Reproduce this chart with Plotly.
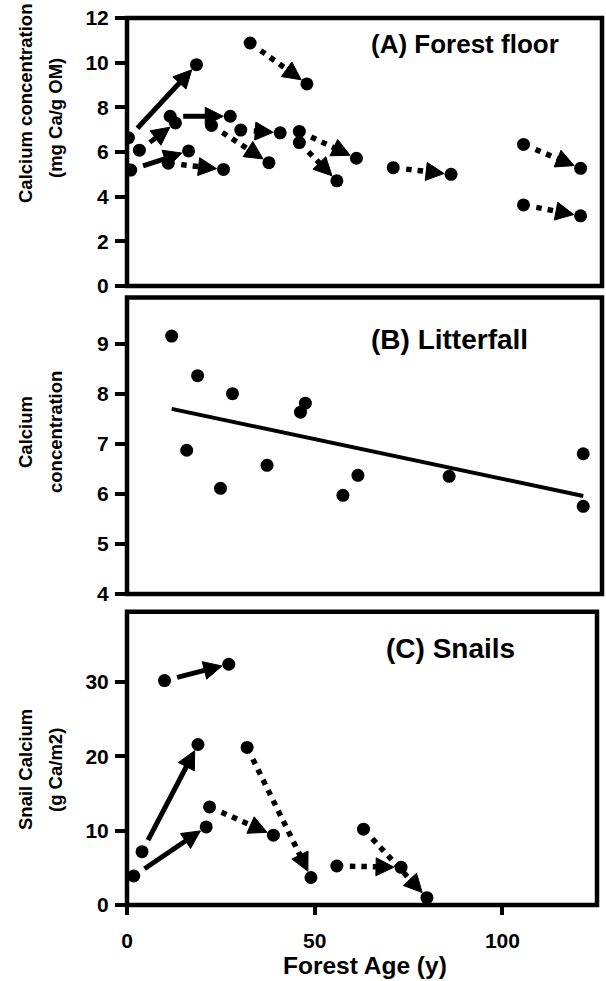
import numpy as np
import plotly.graph_objects as go

W, H = 606, 981

# ---------------- data ----------------
# (A) Forest floor calcium (mg Ca/g OM): resampled stands, arrow start -> end
A_start_age = [0.4, 3.3, 1.0, 11.5, 11.0, 22.5, 30.3, 32.8, 45.9, 45.9, 70.9, 105.6, 105.6]
A_start_ca = [6.64, 6.08, 5.19, 7.60, 5.50, 7.19, 6.98, 10.88, 6.92, 6.42, 5.30, 6.34, 3.63]
A_end_age = [18.5, 12.9, 16.4, 27.5, 25.7, 37.8, 40.8, 47.9, 61.1, 55.9, 86.3, 120.8, 120.8]
A_end_ca = [9.91, 7.30, 6.05, 7.60, 5.22, 5.52, 6.86, 9.05, 5.72, 4.71, 5.00, 5.27, 3.14]
A_solid = [True, True, True, True, False, False, False, False, False, False, False, False, False]

# (B) Litterfall calcium concentration
B_age = [11.9, 15.9, 18.8, 24.9, 28.1, 37.3, 46.2, 47.5, 57.5, 61.5, 85.8, 121.5, 121.5]
B_ca = [9.15, 6.87, 8.36, 6.11, 8.00, 6.57, 7.63, 7.81, 5.97, 6.37, 6.35, 6.80, 5.75]

# (C) Snail calcium (g Ca/m2): arrow start -> end
C_start_age = [10.0, 4.0, 1.8, 22.0, 32.0, 55.9, 63.0]
C_start_ca = [30.2, 7.17, 3.9, 13.2, 21.2, 5.25, 10.2]
C_end_age = [27.1, 18.9, 21.1, 39.0, 49.0, 73.0, 79.9]
C_end_ca = [32.4, 21.6, 10.5, 9.4, 3.7, 5.07, 0.98]
C_solid = [True, True, True, False, False, False, False]

A_yticks = [0, 2, 4, 6, 8, 10, 12]
B_yticks = [4, 5, 6, 7, 8, 9]
C_yticks = [0, 10, 20, 30]
C_xticks = [0, 50, 100]

# ---------------- layout geometry (pixels) ----------------
BOX = {
    "A": (127, 602, 18, 286),
    "B": (127, 602, 297.5, 594),
    "C": (127, 597, 611.7, 905),
}
XR = {"A": [0, 126.5], "B": [0, 126.5], "C": [0, 125.2]}
YR = {"A": [0, 12], "B": [4, 9.92], "C": [0, 39.47]}
AX = {"A": ("x", "y"), "B": ("x2", "y2"), "C": ("x3", "y3")}

FONT = "Liberation Sans, Arial, sans-serif"

HEAD = 18
STANDOFF = 7


def to_px(p, x, y):
    L, R, T, B = BOX[p]
    x0, x1 = XR[p]
    y0, y1 = YR[p]
    return L + (x - x0) / (x1 - x0) * (R - L), B - (y - y0) / (y1 - y0) * (B - T)


def to_data(p, X, Y):
    L, R, T, B = BOX[p]
    x0, x1 = XR[p]
    y0, y1 = YR[p]
    return x0 + (X - L) / (R - L) * (x1 - x0), y0 + (B - Y) / (B - T) * (y1 - y0)


fig = go.Figure()


def add_arrows(p, sx, sy, ex, ey, solid):
    xa, ya = AX[p]
    for x0, y0, x1, y1, s in zip(sx, sy, ex, ey, solid):
        S = np.array(to_px(p, x0, y0))
        E = np.array(to_px(p, x1, y1))
        d = (E - S) / np.linalg.norm(E - S)
        S2 = S + d * 13
        bx, by = to_data(p, S2[0], S2[1])
        fig.add_trace(go.Scatter(
            x=[bx, x1], y=[by, y1], xaxis=xa, yaxis=ya,
            mode="lines+markers", hoverinfo="skip",
            line=dict(color="black", width=5 if s else 5.5,
                      dash="solid" if s else "5.5px,6px",
                      backoff=HEAD + STANDOFF - 3),
            marker=dict(symbol=["circle", "arrow-up"], size=[0, HEAD], color="#000000",
                        opacity=1, angleref="previous", standoff=[0, STANDOFF],
                        line=dict(width=1, color="#000000")),
        ))
    fig.add_trace(go.Scatter(
        x=list(sx) + list(ex), y=list(sy) + list(ey), xaxis=xa, yaxis=ya,
        mode="markers", marker=dict(symbol="circle", size=13, color="black"),
    ))


add_arrows("A", A_start_age, A_start_ca, A_end_age, A_end_ca, A_solid)
add_arrows("C", C_start_age, C_start_ca, C_end_age, C_end_ca, C_solid)

# Panel B scatter + least-squares line
slope, icpt = np.polyfit(B_age, B_ca, 1)
lx = np.array([min(B_age), max(B_age)])
fig.add_trace(go.Scatter(x=lx, y=slope * lx + icpt, xaxis="x2", yaxis="y2", mode="lines",
                         line=dict(color="black", width=4)))
fig.add_trace(go.Scatter(x=B_age, y=B_ca, xaxis="x2", yaxis="y2", mode="markers",
                         marker=dict(symbol="circle", size=13, color="black")))

tickfont = dict(family=FONT, size=21, color="black", weight="bold")
layout = dict(width=W, height=H, margin=dict(l=0, r=0, t=0, b=0, pad=0),
              paper_bgcolor="white", plot_bgcolor="white", showlegend=False)

shapes = []
for p, yt in (("A", A_yticks), ("B", B_yticks), ("C", C_yticks)):
    L, R, T, B = BOX[p]
    xa, ya = AX[p]
    xk = "xaxis" + xa[1:]
    yk = "yaxis" + ya[1:]
    layout[xk] = dict(domain=[L / W, R / W], range=XR[p], anchor=ya, showgrid=False,
                      zeroline=False, showline=False, showticklabels=False, ticks="",
                      automargin=False)
    layout[yk] = dict(domain=[1 - B / H, 1 - T / H], range=YR[p], anchor=xa, showgrid=False,
                      zeroline=False, showline=False, tickvals=yt, ticks="outside",
                      ticklen=11, tickwidth=3.5, tickcolor="black", tickfont=tickfont,
                      ticklabelstandoff=2, automargin=False)
    shapes.append(dict(type="rect", xref="paper", yref="paper", x0=L / W, x1=R / W,
                       y0=1 - B / H, y1=1 - T / H, line=dict(color="black", width=4.5),
                       layer="above"))

layout["xaxis3"].update(showticklabels=True, tickvals=C_xticks, ticks="outside", ticklen=9,
                        tickwidth=3.5, tickcolor="black", tickfont=tickfont,
                        ticklabelstandoff=8)
layout["shapes"] = shapes


def ann(text, x, y, size, angle=0):
    return dict(text=text, x=x / W, y=1 - y / H, xref="paper", yref="paper", showarrow=False,
                xanchor="center", yanchor="middle", textangle=angle,
                font=dict(family=FONT, size=size, color="black", weight="bold"))


layout["annotations"] = [
    ann("(A) Forest floor", 465, 44, 26),
    ann("(B) Litterfall", 449, 339, 28),
    ann("(C) Snails", 450, 648, 28),
    ann("Calcium concentration", 25, 104, 18.5, -90),
    ann("(mg Ca/g OM)", 55, 118, 18.5, -90),
    ann("Calcium", 25, 432, 18.5, -90),
    ann("concentration", 55, 432, 18.5, -90),
    ann("Snail Calcium", 25, 770, 18.5, -90),
    ann("(g Ca/m2)", 55, 770, 18.5, -90),
    ann("Forest Age (y)", 365, 965, 24.5),
]

fig.update_layout(**layout)
fig.write_html(
    "out.html",
    post_script="document.body.style.margin='0';document.body.style.padding='0';"
                "document.documentElement.style.overflow='hidden';",
)
